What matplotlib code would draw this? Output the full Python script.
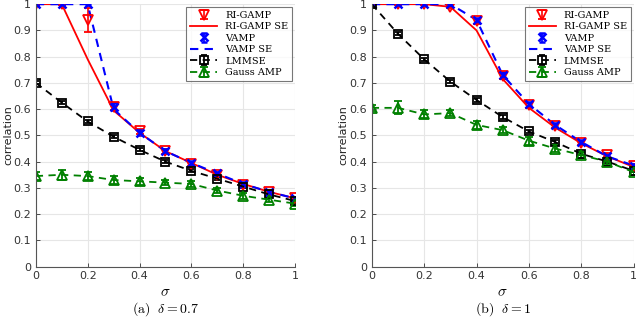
import numpy as np
import matplotlib.pyplot as plt

plt.rcParams['mathtext.fontset'] = 'cm'

sigma = [0, 0.1, 0.2, 0.3, 0.4, 0.5, 0.6, 0.7, 0.8, 0.9, 1.0]

# delta = 0.7
ri_a = [1.0, 1.0, 0.94, 0.61, 0.515, 0.44, 0.39, 0.35, 0.31, 0.285, 0.26]
ri_a_err = [0.003, 0.003, 0.045, 0.015, 0.01, 0.01, 0.008, 0.008, 0.006, 0.006, 0.005]
ri_se_a = [1.0, 1.0, 0.79, 0.595, 0.51, 0.44, 0.395, 0.35, 0.315, 0.285, 0.26]
vamp_a = [1.0, 1.0, 1.0, 0.61, 0.51, 0.44, 0.395, 0.355, 0.315, 0.285, 0.26]
vamp_a_err = [0.003, 0.003, 0.003, 0.015, 0.01, 0.008, 0.008, 0.006, 0.006, 0.005, 0.005]
vamp_se_a = [1.0, 1.0, 1.0, 0.6, 0.51, 0.44, 0.395, 0.355, 0.315, 0.285, 0.26]
lmmse_a = [0.70, 0.625, 0.553, 0.495, 0.445, 0.40, 0.365, 0.335, 0.305, 0.275, 0.25]
lmmse_a_err = [0.006, 0.006, 0.006, 0.006, 0.006, 0.006, 0.006, 0.006, 0.006, 0.006, 0.006]
gauss_a = [0.345, 0.35, 0.345, 0.33, 0.325, 0.32, 0.315, 0.29, 0.27, 0.255, 0.24]
gauss_a_err = [0.015, 0.02, 0.015, 0.015, 0.013, 0.01, 0.012, 0.01, 0.012, 0.01, 0.01]

# delta = 1
ri_b = [1.0, 1.0, 1.0, 0.99, 0.935, 0.725, 0.615, 0.535, 0.47, 0.425, 0.385]
ri_b_err = [0.003, 0.003, 0.003, 0.005, 0.01, 0.01, 0.01, 0.008, 0.008, 0.007, 0.006]
ri_se_b = [1.0, 1.0, 1.0, 0.99, 0.90, 0.715, 0.605, 0.53, 0.47, 0.42, 0.38]
vamp_b = [1.0, 1.0, 1.0, 1.0, 0.94, 0.73, 0.62, 0.54, 0.475, 0.42, 0.385]
vamp_b_err = [0.003, 0.003, 0.003, 0.003, 0.008, 0.01, 0.008, 0.008, 0.007, 0.006, 0.006]
vamp_se_b = [1.0, 1.0, 1.0, 1.0, 0.94, 0.73, 0.62, 0.54, 0.475, 0.42, 0.385]
lmmse_b = [1.0, 0.887, 0.79, 0.705, 0.635, 0.57, 0.515, 0.475, 0.43, 0.40, 0.365]
lmmse_b_err = [0.006, 0.006, 0.006, 0.006, 0.006, 0.006, 0.006, 0.006, 0.006, 0.006, 0.006]
gauss_b = [0.605, 0.605, 0.58, 0.585, 0.54, 0.52, 0.48, 0.45, 0.425, 0.40, 0.36]
gauss_b_err = [0.012, 0.025, 0.015, 0.012, 0.015, 0.012, 0.015, 0.012, 0.012, 0.012, 0.012]

red = (1, 0, 0)
blue = (0, 0, 1)
green = (0, 0.5, 0)


def draw(ax, ri, ri_err, ri_se, vamp, vamp_err, vamp_se, lm, lm_err, ga, ga_err, caption):
    h1 = ax.errorbar(sigma, ri, yerr=ri_err, color=red, marker='v', ms=7, mfc='none',
                     mew=1.3, ls='none', capsize=3, elinewidth=1.2, label='RI-GAMP')
    h2, = ax.plot(sigma, ri_se, color=red, lw=1.3, label='RI-GAMP SE')
    h3 = ax.errorbar(sigma, vamp, yerr=vamp_err, color=blue, marker='x', ms=6,
                     mew=1.8, ls='none', capsize=2, elinewidth=1.2, label='VAMP')
    h4, = ax.plot(sigma, vamp_se, color=blue, lw=1.5, ls=(0, (4, 3)), label='VAMP SE')
    h5 = ax.errorbar(sigma, lm, yerr=lm_err, color='k', marker='s', ms=6, mfc='none',
                     mew=1.3, ls=(0, (4, 3)), lw=1.3, capsize=2, label='LMMSE')
    h6 = ax.errorbar(sigma, ga, yerr=ga_err, color=green, marker='^', ms=7, mfc='none',
                     mew=1.3, ls=(0, (4, 3)), lw=1.3, capsize=3, label='Gauss AMP')
    ax.set_xlim(0, 1)
    ax.set_ylim(0, 1)
    ax.set_xticks([0, 0.2, 0.4, 0.6, 0.8, 1])
    ax.set_xticklabels(['0', '0.2', '0.4', '0.6', '0.8', '1'])
    ax.set_yticks(np.arange(0, 1.01, 0.1))
    ax.set_yticklabels(['0', '0.1', '0.2', '0.3', '0.4', '0.5', '0.6', '0.7', '0.8', '0.9', '1'])
    ax.grid(True, color='#e6e6e6', lw=0.8)
    ax.set_axisbelow(True)
    for s in ['top', 'right']:
        ax.spines[s].set_visible(False)
    for s in ['left', 'bottom']:
        ax.spines[s].set_color('#555555')
        ax.spines[s].set_linewidth(0.8)
    ax.tick_params(labelsize=8, colors='#333333', direction='in', length=3, width=0.6)
    ax.set_ylabel('correlation', fontsize=8, color='#222222')
    ax.yaxis.set_label_coords(-0.088, 0.5)
    ax.set_xlabel(r'$\sigma$', fontsize=11)
    ax.xaxis.set_label_coords(0.5, -0.068)
    leg = ax.legend([h1, h2, h3, h4, h5, h6],
                    ['RI-GAMP', 'RI-GAMP SE', 'VAMP', 'VAMP SE', 'LMMSE', 'Gauss AMP'],
                    loc='upper right', prop={'family': 'DejaVu Serif', 'size': 7},
                    frameon=True, fancybox=False, edgecolor='#555555', handlelength=2.8,
                    borderpad=0.4, labelspacing=0.25, borderaxespad=0.3)
    leg.get_frame().set_linewidth(0.8)
    pos = ax.get_position()
    ax.figure.text(pos.x0 + pos.width / 2, 0.012, caption, ha='center', va='bottom', fontsize=10)


fig = plt.figure(figsize=(6.4, 3.22), dpi=100)
ax1 = fig.add_axes([0.056, 0.172, 0.405, 0.815])
ax2 = fig.add_axes([0.581, 0.172, 0.409, 0.815])
draw(ax1, ri_a, ri_a_err, ri_se_a, vamp_a, vamp_a_err, vamp_se_a, lmmse_a, lmmse_a_err,
     gauss_a, gauss_a_err, r'$\mathrm{(a)}\ \ \delta = 0.7$')
draw(ax2, ri_b, ri_b_err, ri_se_b, vamp_b, vamp_b_err, vamp_se_b, lmmse_b, lmmse_b_err,
     gauss_b, gauss_b_err, r'$\mathrm{(b)}\ \ \delta = 1$')
fig.savefig('out.png', dpi=100)
